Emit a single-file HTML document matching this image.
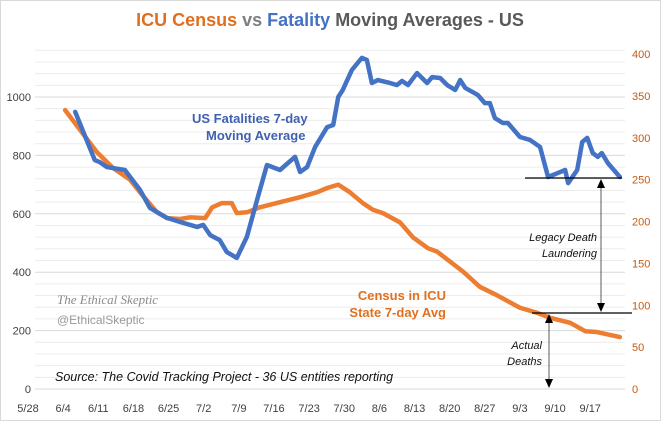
<!DOCTYPE html>
<html><head><meta charset="utf-8"><style>
body{margin:0;background:#fff;}
svg{display:block;font-family:"Liberation Sans",sans-serif;}
</style></head><body>
<svg id="chart" width="661" height="421" viewBox="0 0 661 421">
<rect x="0.5" y="0.5" width="660" height="420" fill="#fff" stroke="#d9d9d9"/>
<g id="grid"></g>
<g id="axes"></g>
<g id="series"></g>
<text x="330" y="26" text-anchor="middle" font-size="18" font-weight="bold"><tspan fill="#e07020">ICU Census</tspan><tspan fill="#7f7f7f"> vs </tspan><tspan fill="#4472c4">Fatality</tspan><tspan fill="#595959"> Moving Averages - US</tspan></text>
<text x="192" y="123" font-size="13" font-weight="bold" fill="#4060b0"><tspan x="192">US Fatalities 7-day</tspan><tspan x="206" dy="17">Moving Average</tspan></text>
<text x="446" y="300" font-size="13" font-weight="bold" fill="#e07020" text-anchor="end"><tspan x="446">Census in ICU</tspan><tspan x="446" dy="17">State 7-day Avg</tspan></text>
<text x="57" y="304" font-size="13" font-style="italic" fill="#8a8a8a" font-family="Liberation Serif,serif">The Ethical Skeptic</text>
<text x="57" y="324" font-size="12" fill="#9a9a9a">@EthicalSkeptic</text>
<text x="55" y="381" font-size="12.5" font-style="italic" fill="#111">Source:  The Covid Tracking Project - 36 US entities reporting</text>
<line x1="525" y1="178" x2="622" y2="178" stroke="#000" stroke-width="1.2"/>
<line x1="532" y1="313" x2="632" y2="313" stroke="#000" stroke-width="1.2"/>
<g>
<line x1="601" y1="184" x2="601" y2="307" stroke="#333" stroke-width="0.8"/>
<polygon points="597,188 605,188 601,179" fill="#000"/><polygon points="597,303 605,303 601,312" fill="#000"/>
</g>
<g>
<line x1="549" y1="320" x2="549" y2="382" stroke="#333" stroke-width="0.8"/>
<polygon points="545,323 553,323 549,314" fill="#000"/><polygon points="545,379 553,379 549,388" fill="#000"/>
</g>
<text font-size="11" font-style="italic" fill="#111" text-anchor="end"><tspan x="597" y="241">Legacy Death</tspan><tspan x="597" y="257">Laundering</tspan></text>
<text font-size="11" font-style="italic" fill="#111" text-anchor="end"><tspan x="542" y="349">Actual</tspan><tspan x="542" y="365">Deaths</tspan></text>
</svg>
<script>
const xTickLabels=["5/28","6/4","6/11","6/18","6/25","7/2","7/9","7/16","7/23","7/30","8/6","8/13","8/20","8/27","9/3","9/10","9/17"];
const leftTicks=[0,200,400,600,800,1000];
const rightTicks=[0,50,100,150,200,250,300,350,400];
const fatalDays=[9.4,13.3,14.3,15.7,19.3,22.3,24.3,27.7,30.3,33.7,34.9,36.3,38.2,39.6,41.6,43.6,45.8,47.6,50.2,53.2,54.2,55.6,57.2,59.6,60.8,61.8,62.7,64.5,66.5,67.5,68.5,69.7,72.1,73.5,74.5,75.7,77.5,79.5,80.5,82.1,83.5,85.1,86.1,87.1,89.6,91.0,92.0,93.0,94.6,95.6,98.0,100.0,102.0,103.6,106.0,107.0,107.6,109.4,110.4,111.4,112.5,113.5,114.3,115.5,117.9];
const fatalValues=[949,784,777,760,750,682,620,586,572,555,562,527,510,469,449,521,658,767,750,795,743,760,829,897,904,1000,1024,1092,1134,1127,1048,1058,1048,1041,1055,1041,1082,1048,1068,1065,1041,1024,1058,1031,1007,979,979,928,911,911,863,853,829,726,743,750,705,750,846,860,808,795,808,774,726];
const icuDays=[7.4,13.7,16.9,20.3,22.3,25.7,27.7,30.3,32.3,35.3,36.7,38.6,40.6,41.6,43.6,46.2,50.2,54.2,57.6,59.6,61.8,64.1,66.7,68.7,70.7,74.1,76.7,79.7,81.5,86.7,90.0,93.4,98.0,101.4,104.0,108.0,111.0,113.3,117.9];
const icuValues=[333,283,264,250,235,211,204,203,205,204,217,222,222,210,211,217,223,229,235,240,244,235,222,214,210,199,181,168,164,140,122,112,97,91,85,79,69,68,62];

const NS="http://www.w3.org/2000/svg";
const X0=28,PX_PER_DAY=5.02,Y0=389;
const xScale=d=>X0+d*PX_PER_DAY;
const yLeft=v=>Y0-v*0.292;
const yRight=v=>Y0-v*0.8375;
function mk(tag,parent){const e=document.createElementNS(NS,tag);document.getElementById(parent).appendChild(e);return e;}
// grid: minor every 40 units, major every 200
for(let v=0;v<=1160;v+=40){
  const l=mk('line','grid');
  
  
  l.setAttribute('x1',35);l.setAttribute('x2',625);
  l.setAttribute('y1',yLeft(v));l.setAttribute('y2',yLeft(v));
  l.setAttribute('stroke',v%200===0?'#d9d9d9':'#ececec');l.setAttribute('stroke-width',1);
}
leftTicks.forEach(v=>{
  const t=mk('text','axes');
  
  
  t.setAttribute('x',31);t.setAttribute('y',yLeft(v)+4);t.setAttribute('text-anchor','end');
  t.setAttribute('font-size','11');t.setAttribute('fill','#404040');t.textContent=v;
});
rightTicks.forEach(v=>{
  const t=mk('text','axes');
  
  
  t.setAttribute('x',632);t.setAttribute('y',yRight(v)+4);
  t.setAttribute('font-size','11');t.setAttribute('fill','#c55a11');t.textContent=v;
});
xTickLabels.forEach((s,i)=>{
  const t=mk('text','axes');
  
  
  t.setAttribute('x',xScale(i*7));t.setAttribute('y',412);t.setAttribute('text-anchor','middle');
  t.setAttribute('font-size','11');t.setAttribute('fill','#404040');t.textContent=s;
});
function line(days,vals,ys,color,name){
  const p=mk('polyline','series');
  
  
  p.setAttribute('points',days.map((d,i)=>xScale(d)+','+ys(vals[i])).join(' '));
  p.setAttribute('fill','none');p.setAttribute('stroke',color);p.setAttribute('stroke-width',4.5);
  p.setAttribute('stroke-linejoin','round');p.setAttribute('stroke-linecap','round');
}
line(icuDays,icuValues,yRight,'#ed7d31','icu-census-line');
line(fatalDays,fatalValues,yLeft,'#4472c4','fatalities-line');
</script>
</body></html>
